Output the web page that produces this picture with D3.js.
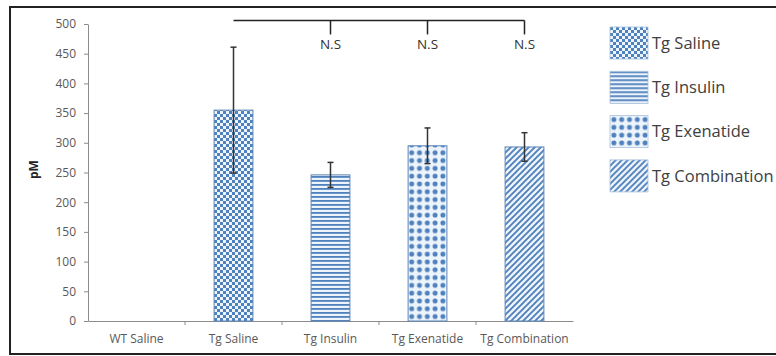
<!DOCTYPE html>
<html lang="en">
<head>
<meta charset="UTF-8">
<title>pM bars</title>
<script src="https://cdn.jsdelivr.net/npm/d3@7/dist/d3.min.js"></script>
<style>
  body { margin: 0; background: #fff; }
  .axis text { font-family: "Open Sans", sans-serif; font-size: 12px; fill: #595959; }
  .axis .domain, .axis line { stroke: #8c8c8c; }
</style>
</head>
<body>
<svg id="mainsvg" width="776" height="356"></svg>
<script>
const categories = ["WT Saline", "Tg Saline", "Tg Insulin", "Tg Exenatide", "Tg Combination"];
const means = [null, 355, 246, 295, 293];
const errors = [null, 106, 21, 30, 24];
const yTicks = [0, 50, 100, 150, 200, 250, 300, 350, 400, 450, 500];
const legendKeys = ["Tg Saline", "Tg Insulin", "Tg Exenatide", "Tg Combination"];
const sigLabels = ["N.S", "N.S", "N.S"];

const svg = d3.select('#mainsvg');
const blue = '#4f81bd';
const margin = { top: 24, left: 88 };
const innerWidth = 485, innerHeight = 297;

// frame (left, top, bottom edges; the right edge falls outside the picture)
svg.append('path').attr('d', 'M776,7 H10 V354 H776')
  .attr('fill', 'none').attr('stroke', '#222').attr('stroke-width', 2);

// patterns
const defs = svg.append('defs');
function mk(id, size) {
  const p = defs.append('pattern').attr('id', id).attr('patternUnits', 'userSpaceOnUse')
    .attr('width', size).attr('height', size);
  p.append('rect').attr('width', size).attr('height', size).attr('fill', '#eef4fb');
  return p;
}
let p = mk('pSaline', 6);
p.append('rect').attr('width', 3).attr('height', 3).attr('fill', blue);
p.append('rect').attr('x', 3).attr('y', 3).attr('width', 3).attr('height', 3).attr('fill', blue);
p = mk('pInsulin', 4);
p.append('rect').attr('y', 0).attr('width', 4).attr('height', 1.8).attr('fill', blue);
p = mk('pExen', 7.8);
p.append('circle').attr('cx', 3.9).attr('cy', 3.9).attr('r', 2.5).attr('fill', blue);
p = mk('pComb', 6);
p.append('path').attr('d', 'M-1,1 L1,-1 M0,6 L6,0 M5,7 L7,5').attr('stroke', blue).attr('stroke-width', 1.9);
const patIds = { "Tg Saline": 'pSaline', "Tg Insulin": 'pInsulin', "Tg Exenatide": 'pExen', "Tg Combination": 'pComb' };

const g = svg.append('g').attr('transform', `translate(${margin.left}, ${margin.top})`);

const xScale = d3.scaleBand().domain(categories).range([0, innerWidth]).paddingInner(0).paddingOuter(0);
const yScale = d3.scaleLinear().domain([0, 500]).range([innerHeight, 0]);
const barW = xScale.bandwidth() * 0.4;

// y axis
g.append('g').attr('class', 'axis')
  .call(d3.axisLeft(yScale).tickValues(yTicks).tickSize(4).tickPadding(8).tickSizeOuter(0));
// x axis, ticks at category boundaries
const xAxis = g.append('g').attr('class', 'axis').attr('transform', `translate(0, ${innerHeight})`)
  .call(d3.axisBottom(xScale).tickSize(0).tickPadding(13).tickSizeOuter(0));
xAxis.selectAll('.bound').data(categories.slice(1)).join('line').attr('class', 'bound')
  .attr('x1', d => xScale(d)).attr('x2', d => xScale(d)).attr('y1', 0).attr('y2', 4);

g.append('text').attr('transform', `translate(-54, ${yScale(255)}) rotate(-90)`)
  .attr('text-anchor', 'middle').attr('dy', '0.35em')
  .attr('font-family', '"Open Sans", sans-serif').attr('font-size', 12).attr('font-weight', 'bold').attr('fill', '#222')
  .text('pM');

const rows = categories.map((c, i) => ({ c, m: means[i], e: errors[i] })).filter(d => d.m != null);

// bars
g.selectAll('.bar').data(rows).join('rect').attr('class', 'bar')
  .attr('x', d => xScale(d.c) + (xScale.bandwidth() - barW) / 2)
  .attr('y', d => yScale(d.m)).attr('width', barW).attr('height', d => yScale(0) - yScale(d.m))
  .attr('fill', d => `url(#${patIds[d.c]})`).attr('stroke', '#5b86b8').attr('stroke-width', 1);

// error bars
const cx = d => xScale(d.c) + xScale.bandwidth() / 2;
const eb = g.selectAll('.err').data(rows).join('g').attr('class', 'err')
  .attr('stroke', '#333').attr('stroke-width', 1.5);
eb.append('line').attr('x1', cx).attr('x2', cx).attr('y1', d => yScale(d.m + d.e)).attr('y2', d => yScale(d.m - d.e));
eb.append('line').attr('x1', d => cx(d) - 3).attr('x2', d => cx(d) + 3).attr('y1', d => yScale(d.m + d.e)).attr('y2', d => yScale(d.m + d.e));
eb.append('line').attr('x1', d => cx(d) - 3).attr('x2', d => cx(d) + 3).attr('y1', d => yScale(d.m - d.e)).attr('y2', d => yScale(d.m - d.e));

// significance bracket
const brY = yScale(506);
const cmp = rows.slice(1);
g.append('line').attr('x1', cx(rows[0])).attr('x2', cx(cmp[cmp.length - 1]))
  .attr('y1', brY).attr('y2', brY).attr('stroke', '#222').attr('stroke-width', 1.5);
g.selectAll('.brtick').data(cmp).join('line').attr('class', 'brtick')
  .attr('x1', cx).attr('x2', cx).attr('y1', brY).attr('y2', brY + 14)
  .attr('stroke', '#222').attr('stroke-width', 1.5);
g.selectAll('.ns').data(cmp).join('text').attr('class', 'ns')
  .attr('x', cx).attr('y', brY + 24).attr('dy', '0.35em').attr('text-anchor', 'middle')
  .attr('font-family', '"Open Sans", sans-serif').attr('font-size', 13.5).attr('fill', '#333')
  .text((d, i) => sigLabels[i]);

// legend
const lg = svg.append('g').attr('transform', 'translate(610, 27)');
const li = lg.selectAll('.li').data(legendKeys).join('g').attr('class', 'li')
  .attr('transform', (d, i) => `translate(0, ${i * 44.3})`);
li.append('rect').attr('width', 38).attr('height', 32)
  .attr('fill', d => `url(#${patIds[d]})`).attr('stroke', '#a9c0dc').attr('stroke-width', 0.8);
li.append('text').attr('x', 42).attr('y', 16).attr('dy', '0.35em')
  .attr('font-family', '"Open Sans", sans-serif').attr('font-size', 16.5).attr('fill', '#404040')
  .text(d => d);
</script>
</body>
</html>
